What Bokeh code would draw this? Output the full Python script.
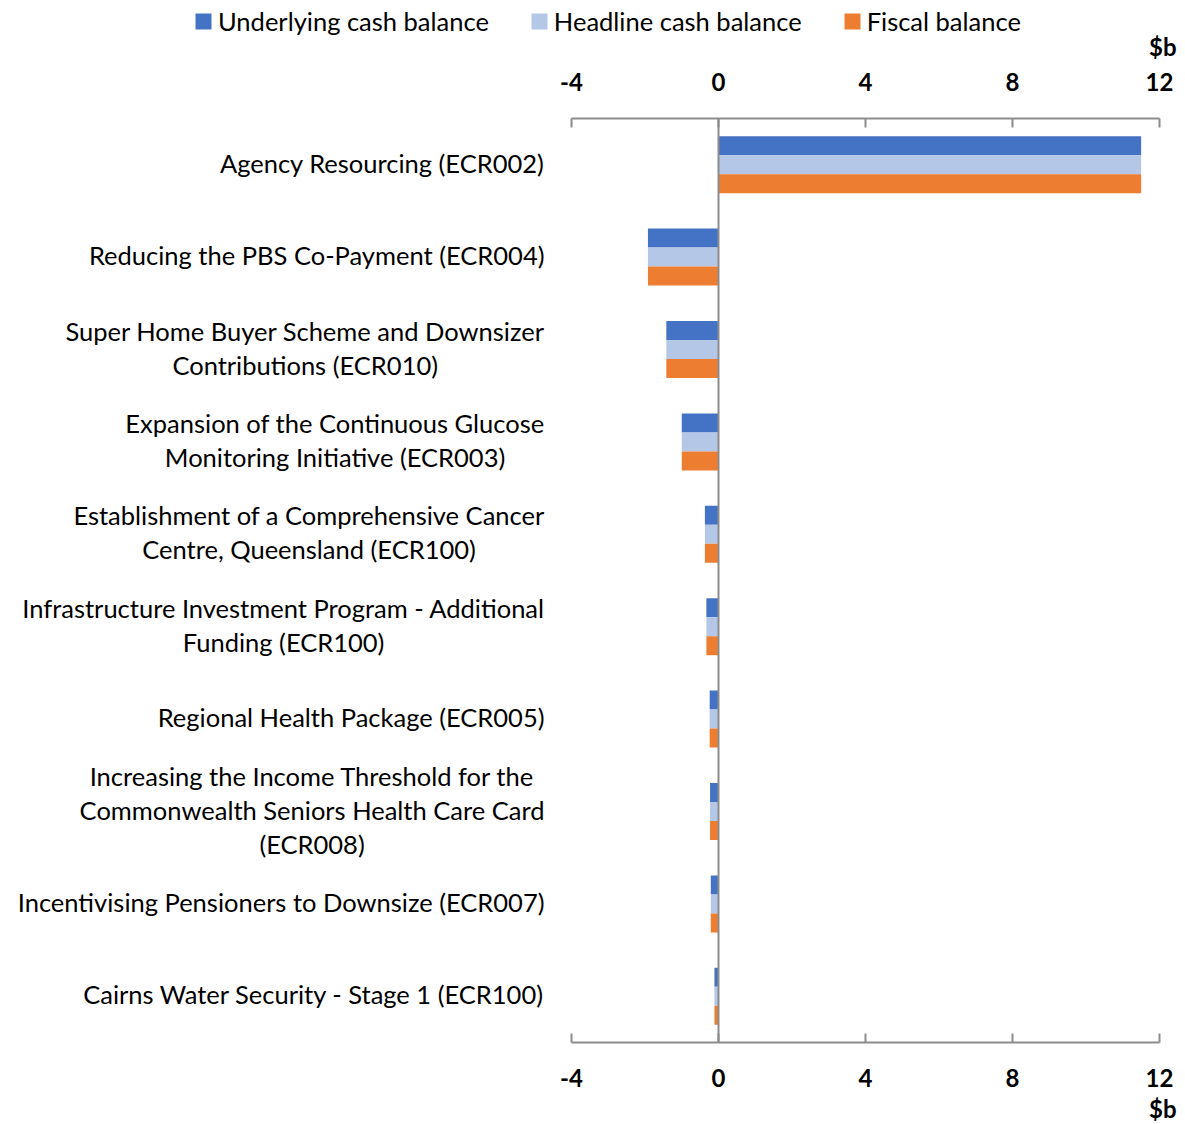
import glob
import subprocess

from bokeh.embed import file_html
from bokeh.layouts import column, row
from bokeh.models import (ColumnDataSource, FixedTicker, Legend, LegendItem,
                          LinearAxis, Range1d, Span, Title)
from bokeh.plotting import figure
from bokeh.resources import INLINE

# ---- data ($b) -------------------------------------------------------------
categories = [
    "Agency Resourcing (ECR002)",
    "Reducing the PBS Co-Payment (ECR004)",
    "Super Home Buyer Scheme and Downsizer\nContributions (ECR010)",
    "Expansion of the Continuous Glucose\nMonitoring Initiative (ECR003)",
    "Establishment of a Comprehensive Cancer\nCentre, Queensland (ECR100)",
    "Infrastructure Investment Program - Additional\nFunding (ECR100)",
    "Regional Health Package (ECR005)",
    "Increasing the Income Threshold for the\nCommonwealth Seniors Health Care Card\n(ECR008)",
    "Incentivising Pensioners to Downsize (ECR007)",
    "Cairns Water Security - Stage 1 (ECR100)",
]
underlying_cash = [11.5, -1.92, -1.42, -1.0, -0.37, -0.33, -0.24, -0.23, -0.21, -0.11]
headline_cash = [11.5, -1.92, -1.42, -1.0, -0.37, -0.33, -0.24, -0.23, -0.21, -0.11]
fiscal_balance = [11.5, -1.92, -1.42, -1.0, -0.37, -0.33, -0.24, -0.23, -0.21, -0.11]
series_names = ["Underlying cash balance", "Headline cash balance", "Fiscal balance"]
x_ticks = [-4, 0, 4, 8, 12]
unit_label = "$b"

# ---- styling / layout -------------------------------------------------------
FONT = "Lato"
LABEL_SIZE = 25.5
TICK_SIZE = 24
COLORS = ["#4472C4", "#B4C7E7", "#ED7D31"]
AXIS_GREY = "#8c8c8c"
BAR_H = 0.2056          # thickness of one bar, in category units
LINE_SPACING = 34       # px between wrapped label lines
LABEL_NUDGE = -2        # px, lifts category labels slightly
LABEL_RIGHT = 544       # right edge of category label block (px from left)

TOTAL_W, TOTAL_H = 1185, 1124
KEY_H = 60              # strip holding legend and top unit label
LABEL_W = 551           # label panel width
MAIN_PAD_LEFT = 20      # room for the first tick label inside the bar panel
BORDER_TOP, BORDER_BOTTOM, BORDER_RIGHT = 58, 82, 26
PANEL_H = TOTAL_H - KEY_H
FRAME_H = PANEL_H - BORDER_TOP - BORDER_BOTTOM


def find_font_file():
    try:
        out = subprocess.run(["fc-match", "-f", "%{file}", f"{FONT}:style=Regular"],
                             capture_output=True, text=True, timeout=5).stdout.strip()
        if out and FONT.lower() in out.lower():
            return out
    except Exception:
        pass
    hits = glob.glob(f"/usr/share/fonts/**/{FONT}-Regular.ttf", recursive=True)
    return hits[0] if hits else None


def text_width_fn():
    path = find_font_file()
    if path:
        try:
            from PIL import ImageFont
            f = ImageFont.truetype(path, LABEL_SIZE)
            return lambda s: f.getlength(s)
        except Exception:
            pass
    return lambda s: 0.5 * LABEL_SIZE * len(s)


def bare(fig):
    fig.outline_line_color = None
    fig.xgrid.visible = False
    fig.ygrid.visible = False
    return fig


width_of = text_width_fn()
n = len(categories)
idx = list(range(n))
y_range = Range1d(n - 0.5, -0.5)
px_per_cat = FRAME_H / n

# ---- main bar panel ---------------------------------------------------------
main = bare(figure(width=TOTAL_W - LABEL_W, height=PANEL_H, output_backend="svg",
                   toolbar_location=None, title=None,
                   x_range=Range1d(x_ticks[0], x_ticks[-1]), y_range=y_range,
                   x_axis_location=None, y_axis_location=None,
                   min_border_left=MAIN_PAD_LEFT, min_border_right=BORDER_RIGHT,
                   min_border_top=BORDER_TOP, min_border_bottom=BORDER_BOTTOM))

bars = []
for k, (vals, color) in enumerate(zip([underlying_cash, headline_cash, fiscal_balance], COLORS)):
    offset = (k - 1) * BAR_H
    bars.append(main.hbar(y=[i + offset for i in idx], left=0, right=vals, height=BAR_H,
                          fill_color=color, line_color=None))

main.add_layout(Span(location=0, dimension="height", line_color=AXIS_GREY, line_width=2))

for loc, standoff in (("above", 28), ("below", 26)):
    ax = LinearAxis(ticker=FixedTicker(ticks=x_ticks))
    ax.major_label_overrides = {t: str(t) for t in x_ticks}
    ax.axis_line_color = AXIS_GREY
    ax.axis_line_width = 2
    ax.major_tick_line_color = AXIS_GREY
    ax.major_tick_line_width = 2
    ax.major_tick_in = 9
    ax.major_tick_out = 0
    ax.minor_tick_line_color = None
    ax.major_label_text_font = FONT
    ax.major_label_text_font_style = "bold"
    ax.major_label_text_font_size = f"{TICK_SIZE}px"
    ax.major_label_text_color = "black"
    ax.major_label_standoff = standoff
    main.add_layout(ax, loc)

main.add_layout(Title(text=unit_label, align="right", offset=-17, standoff=4,
                      text_font=FONT, text_font_style="bold",
                      text_font_size=f"{TICK_SIZE}px", text_color="black"), "below")

# ---- category label panel ---------------------------------------------------
single = dict(x=[], y=[], text=[])
wrapped = dict(x=[], y=[], text=[])
nudge = LABEL_NUDGE / px_per_cat
for i, cat in enumerate(categories):
    lines = cat.split("\n")
    m = len(lines)
    if m == 1:
        single["x"].append(LABEL_RIGHT)
        single["y"].append(i + nudge)
        single["text"].append(cat)
        continue
    block_w = max(width_of(s) for s in lines)
    for j, s in enumerate(lines):
        wrapped["x"].append(LABEL_RIGHT - block_w / 2)
        wrapped["y"].append(i + nudge + (j - (m - 1) / 2) * LINE_SPACING / px_per_cat)
        wrapped["text"].append(s)

labels = bare(figure(width=LABEL_W, height=PANEL_H, output_backend="svg",
                     toolbar_location=None, title=None,
                     x_range=Range1d(0, LABEL_W), y_range=y_range,
                     x_axis_location=None, y_axis_location=None,
                     min_border_left=0, min_border_right=0,
                     min_border_top=BORDER_TOP, min_border_bottom=BORDER_BOTTOM))
text_style = dict(text_font={"value": FONT}, text_font_size={"value": f"{LABEL_SIZE}px"},
                  text_color="black", text_baseline="middle")
labels.text(x="x", y="y", text="text", source=ColumnDataSource(single),
            text_align="right", **text_style)
labels.text(x="x", y="y", text="text", source=ColumnDataSource(wrapped),
            text_align="center", **text_style)

# ---- strip with legend and the top unit label --------------------------------
key = bare(figure(width=TOTAL_W, height=KEY_H, output_backend="svg",
                  toolbar_location=None, title=None,
                  x_range=Range1d(0, TOTAL_W), y_range=Range1d(KEY_H, 0),
                  x_axis_location=None, y_axis_location=None,
                  min_border_left=0, min_border_right=0,
                  min_border_top=0, min_border_bottom=0))
nan = float("nan")
key_renderers = [key.hbar(y=[nan], left=[nan], right=[nan], height=BAR_H,
                          fill_color=c, line_color=None) for c in COLORS]
legend = Legend(items=[LegendItem(label=nm, renderers=[r]) for nm, r in zip(series_names, key_renderers)],
                orientation="horizontal", location=(193, 24),
                glyph_width=20, glyph_height=20, label_standoff=5, spacing=40,
                padding=0, margin=0, border_line_color=None, background_fill_alpha=0,
                label_text_font=FONT, label_text_font_size=f"{LABEL_SIZE}px",
                label_text_color="black")
key.add_layout(legend, "center")
key.text(x=[TOTAL_W - 9], y=[46], text=[unit_label], text_align="right",
         text_baseline="middle", text_font={"value": FONT}, text_font_style="bold",
         text_font_size={"value": f"{TICK_SIZE}px"}, text_color="black")

layout = column(key, row(labels, main))
open("out.html", "w").write(file_html(layout, INLINE))
